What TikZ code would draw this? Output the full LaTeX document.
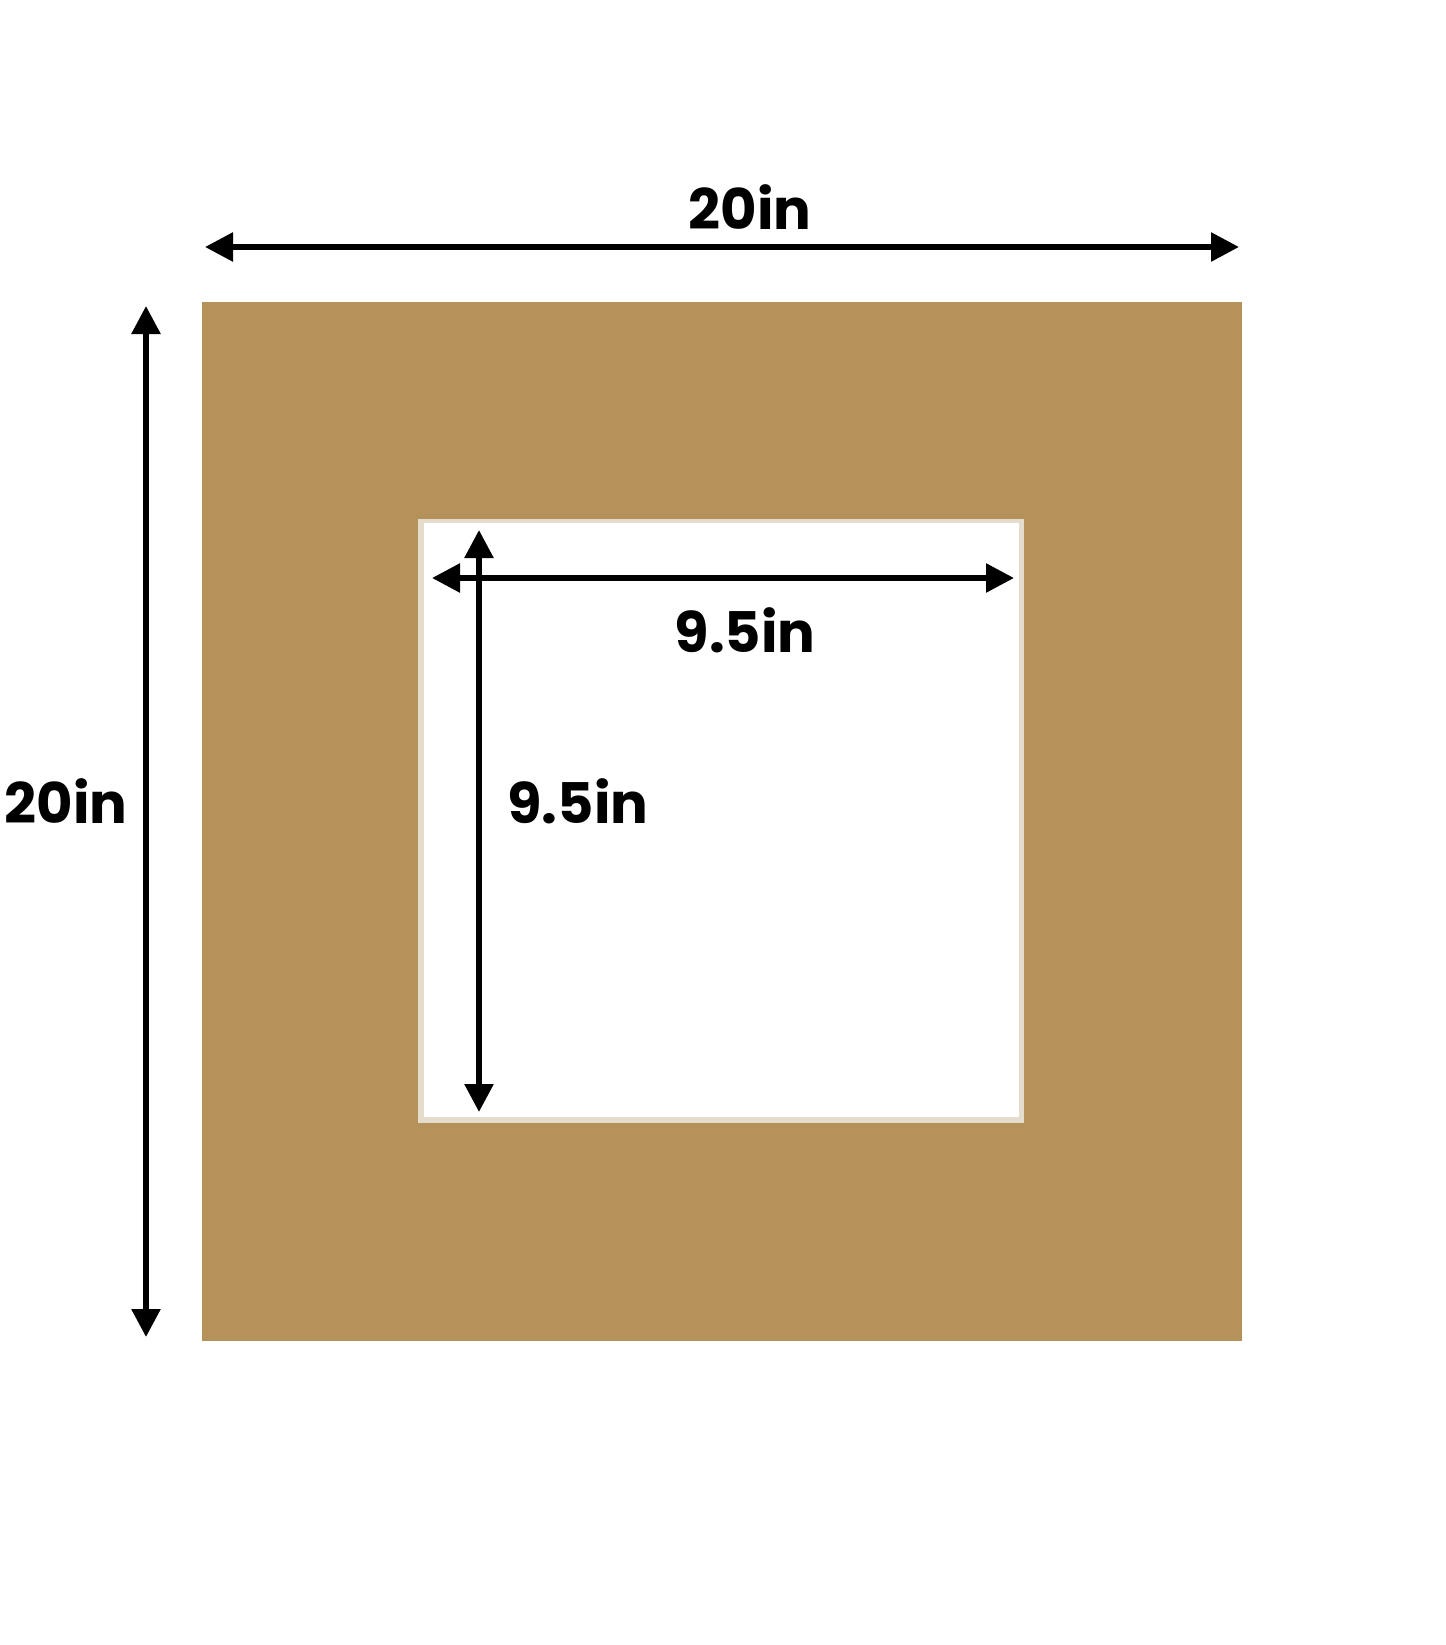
\documentclass[tikz,border=0pt]{standalone}
\usepackage{fontspec}
\setmainfont{Poppins}
\usetikzlibrary{arrows.meta}
\definecolor{matTan}{RGB}{180,146,90}
\definecolor{matCream}{RGB}{228,220,205}
\tikzset{
  dimarrow/.style={line width=5.7pt, {Triangle[length=28pt,width=28pt]}-{Triangle[length=28pt,width=28pt]}},
  dimlabel/.style={anchor=base, inner sep=0pt, font=\fontsize{56}{62}\selectfont\bfseries, text=black}
}
\begin{document}
\begin{tikzpicture}[x=1pt,y=1pt]
\useasboundingbox[fill=white] (0,0) rectangle (1445,-1645);
% mat board
\fill[matTan] (202,-302) rectangle (1242,-1341);
\fill[matCream] (418,-519) rectangle (1024,-1123);
\fill[white] (424,-523) rectangle (1019,-1117);
% coordinates
\coordinate (topL) at (205,-247);
\coordinate (topR) at (1239,-247);
\coordinate (leftT) at (146,-306);
\coordinate (leftB) at (146,-1337);
\coordinate (inL) at (432,-578);
\coordinate (inR) at (1014,-578);
\coordinate (inT) at (479,-530);
\coordinate (inB) at (479,-1112);
% arrows
\draw[dimarrow] (topL) -- (topR);
\draw[dimarrow] (leftT) -- (leftB);
\draw[dimarrow] (inL) -- (inR);
\draw[dimarrow] (inT) -- (inB);
% labels
\node[dimlabel] (lblTop) at (750,-230) {20in};
\node[dimlabel] (lblLeft) at (66,-823) {20in};
\node[dimlabel] (lblInH) at (745,-652) {9.5in};
\node[dimlabel] (lblInV) at (578,-823) {9.5in};
\end{tikzpicture}
\end{document}
